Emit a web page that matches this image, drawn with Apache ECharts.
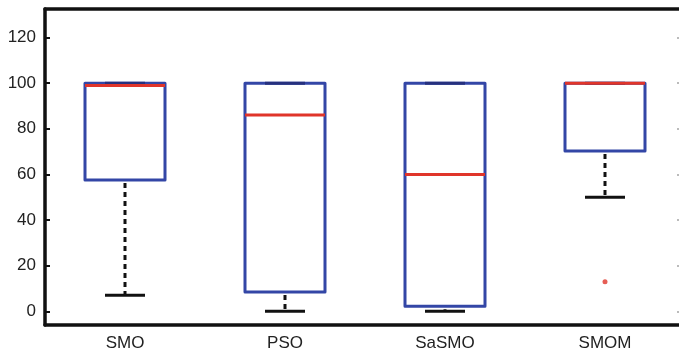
<!DOCTYPE html>
<html>
<head>
<meta charset="utf-8">
<script src="https://cdn.jsdelivr.net/npm/echarts@6/dist/echarts.min.js"></script>
<style>body{margin:0;background:#fff;}</style>
</head>
<body>
<div id="boxChart" style="width:679px;height:355px;"></div>
<script>
// values
var categories = ['SMO', 'PSO', 'SaSMO', 'SMOM']
var lowWhisker = [7, 0, 0, 50]
var q1 = [57.5, 8.5, 2.2, 70.3]
var median = [99, 86, 60, 100]
var q3 = [100, 100, 100, 100]
var highWhisker = [100, 100, 100, 100]
var outliers = [[3, 13]]
var yTicks = [0, 20, 40, 60, 80, 100, 120]

var boxColor = '#3346a6'
var medColor = '#e0352a'

var boxData = categories.map(function(c, i){
    return [i, lowWhisker[i], q1[i], median[i], q3[i], highWhisker[i]]
})

function renderBox(params, api){
    var i = api.value(0)
    var xc = api.coord([i, 0])[0]
    var band = api.size([1, 0])[0]
    var half = band * 0.25
    var capHalf = band * 0.125
    var yLow = api.coord([i, api.value(1)])[1]
    var yQ1 = api.coord([i, api.value(2)])[1]
    var yMed = api.coord([i, api.value(3)])[1]
    var yQ3 = api.coord([i, api.value(4)])[1]
    var yHigh = api.coord([i, api.value(5)])[1]
    var dash = {stroke:'#111', lineWidth:3, lineDash:[5,4], lineDashOffset:-3}
    var solid = {stroke:'#111', lineWidth:3}
    return {
        type:'group',
        children:[
            {type:'line', shape:{x1:xc, y1:yQ1, x2:xc, y2:yLow}, style:dash},
            {type:'line', shape:{x1:xc, y1:yQ3, x2:xc, y2:yHigh}, style:dash},
            {type:'line', shape:{x1:xc-capHalf, y1:yLow, x2:xc+capHalf, y2:yLow}, style:solid},
            {type:'rect', shape:{x:xc-half, y:yQ3, width:half*2, height:yQ1-yQ3},
                style:{fill:'#fff', stroke:boxColor, lineWidth:3, lineJoin:'round'}},
            // upper cap sits on the box top, shows a bit darker
            {type:'line', shape:{x1:xc-capHalf, y1:yHigh, x2:xc+capHalf, y2:yHigh}, style:{stroke:'#26307e', lineWidth:3}},
            {type:'line', shape:{x1:xc-half, y1:yMed, x2:xc+half, y2:yMed}, style:{stroke:medColor, lineWidth:3}}
        ]
    }
}

var font = 'Liberation Sans, Arial, sans-serif'
var axisLine = {show:true, onZero:false, lineStyle:{color:'#111', width:3.5}}

var chart = echarts.init(document.getElementById('boxChart'))
var option = {
    animation:false,
    // plot box runs a little past the right edge of the canvas
    grid:{left:45, top:9, width:640, height:316, outerBoundsMode:'none', containLabel:false},
    xAxis:[
        {
            type:'category', data:categories, position:'bottom',
            axisLine:axisLine,
            axisTick:{inside:true, alignWithLabel:true, length:5, lineStyle:{color:'#111', width:2}},
            axisLabel:{color:'#222', fontSize:17, fontFamily:font, margin:10},
            splitLine:{show:false}
        },
        {
            type:'category', data:categories, position:'top',
            axisLine:axisLine,
            axisTick:{inside:true, alignWithLabel:true, length:5, lineStyle:{color:'#111', width:2}},
            axisLabel:{show:false},
            splitLine:{show:false}
        }
    ],
    yAxis:[
        {
            type:'value', min:-6, max:132.5, position:'left',
            axisLine:axisLine,
            axisTick:{show:true, inside:true, length:5, customValues:yTicks, lineStyle:{color:'#111', width:2}},
            axisLabel:{color:'#222', fontSize:17, fontFamily:font, margin:9, customValues:yTicks},
            splitLine:{show:false}
        },
        {
            type:'value', min:-6, max:132.5, position:'right',
            axisLine:axisLine,
            axisTick:{show:true, inside:true, length:8, customValues:yTicks, lineStyle:{color:'#bbb', width:2}},
            axisLabel:{show:false},
            splitLine:{show:false}
        }
    ],
    series:[
        {
            type:'custom',
            renderItem:renderBox,
            data:boxData,
            encode:{x:0, y:[1,2,3,4,5]},
            z:3
        },
        {
            type:'scatter',
            data:outliers,
            symbolSize:5,
            itemStyle:{color:medColor},
            z:4
        }
    ]
}
chart.setOption(option, true)
</script>
</body>
</html>
